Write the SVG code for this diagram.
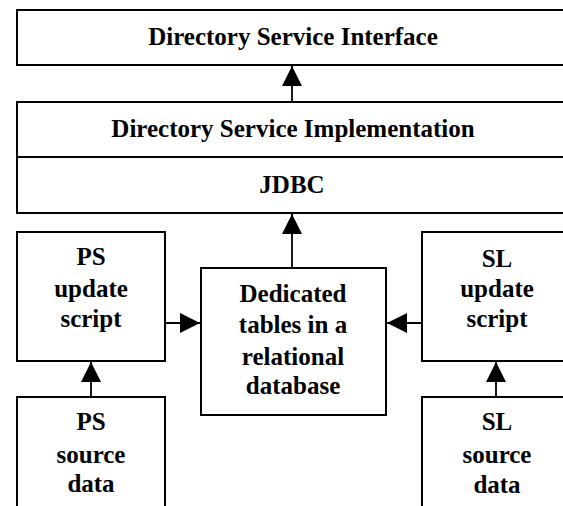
<svg xmlns="http://www.w3.org/2000/svg" width="563" height="506" viewBox="0 0 563 506">
<style>
.box{fill:#fff;stroke:#000;stroke-width:2}
.t{font-family:'Liberation Serif','DejaVu Serif','Times New Roman',serif;font-weight:bold;font-size:25px;text-anchor:middle;fill:#000}
.c{stroke:#000;stroke-width:1.8;fill:none;marker-end:url(#ah)}
</style>
<defs>
<marker id="ah" markerUnits="userSpaceOnUse" markerWidth="20" markerHeight="20" viewBox="0 0 18 18" refX="18" refY="9" orient="auto">
<path d="M0,0 L18,9 L0,18 Z" fill="#000"/>
</marker>
</defs>
<rect width="563" height="506" fill="#fff"/>
<g id="interface">
<rect class="box" x="17" y="10" width="560" height="55"/>
<text class="t" x="293" y="45" font-family="Liberation Serif, serif">Directory Service Interface</text>
</g>
<g id="implementation">
<rect class="box" x="17" y="102" width="560" height="55"/>
<text class="t" x="293" y="137">Directory Service Implementation</text>
</g>
<g id="jdbc">
<rect class="box" x="17" y="157" width="560" height="56"/>
<text class="t" x="292" y="193">JDBC</text>
</g>
<g id="ps-update">
<rect class="box" x="17" y="232" width="148" height="129"/>
<text class="t" x="91" y="265">PS</text>
<text class="t" x="91" y="297">update</text>
<text class="t" x="91" y="327">script</text>
</g>
<g id="dedicated">
<rect class="box" x="201" y="268" width="185" height="147"/>
<text class="t" x="293" y="302">Dedicated</text>
<text class="t" x="293" y="333">tables in a</text>
<text class="t" x="293" y="365">relational</text>
<text class="t" x="293" y="394">database</text>
</g>
<g id="sl-update">
<rect class="box" x="422" y="232" width="160" height="129"/>
<text class="t" x="497" y="267">SL</text>
<text class="t" x="497" y="297">update</text>
<text class="t" x="497" y="327">script</text>
</g>
<g id="ps-source">
<rect class="box" x="17" y="397" width="148" height="130"/>
<text class="t" x="91" y="430">PS</text>
<text class="t" x="91" y="463">source</text>
<text class="t" x="91" y="492">data</text>
</g>
<g id="sl-source">
<rect class="box" x="422" y="397" width="160" height="130"/>
<text class="t" x="497" y="430">SL</text>
<text class="t" x="497" y="463">source</text>
<text class="t" x="497" y="493">data</text>
</g>
<g id="connectors">
<line class="c" x1="292" y1="102" x2="292" y2="66"/>
<line class="c" x1="292" y1="268" x2="292" y2="214"/>
<line class="c" x1="165" y1="323" x2="200" y2="323"/>
<line class="c" x1="422" y1="323" x2="387" y2="323"/>
<line class="c" x1="91" y1="397" x2="91" y2="362"/>
<line class="c" x1="496" y1="397" x2="496" y2="362"/>
</g>
</svg>
